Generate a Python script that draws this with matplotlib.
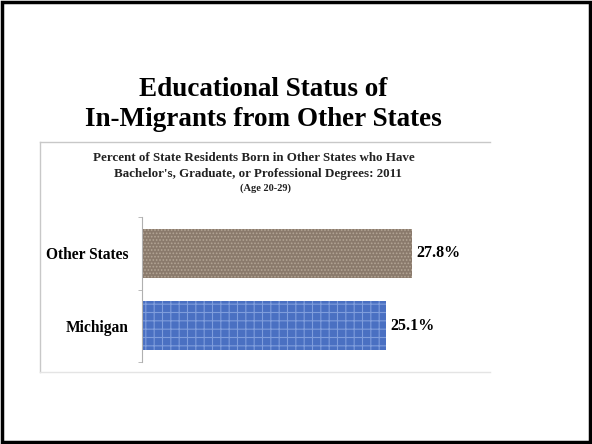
import matplotlib.pyplot as plt
from matplotlib.lines import Line2D
from matplotlib.patches import Rectangle

plt.rcParams['font.family'] = ['Liberation Serif', 'DejaVu Serif']
plt.rcParams['hatch.linewidth'] = 0.8

categories = ["Michigan", "Other States"]
values = [25.1, 27.8]
value_labels = ["25.1%", "27.8%"]
bar_colors = ["#4a70c2", "#8a7a6c"]
hatch_colors = ["#7f9ddc", "#b3a595"]
hatches = ["++", "....."]

W, H = 592, 444
fig = plt.figure(figsize=(W / 100, H / 100), dpi=100)


def fx(px):
    return px / W


def fy(py):
    return 1 - py / H


# slide frame
fig.patches.append(Rectangle((0.004, 0.005), 0.992, 0.99, transform=fig.transFigure,
                             fill=False, edgecolor="black", linewidth=2.5))

# chart box lines
box = "#c8c8c8"
fig.lines.append(Line2D([fx(40), fx(40)], [fy(142), fy(372)], color=box, lw=1, transform=fig.transFigure))
fig.lines.append(Line2D([fx(40), fx(490)], [fy(142), fy(142)], color=box, lw=1, transform=fig.transFigure))
fig.lines.append(Line2D([fx(40), fx(490)], [fy(372), fy(372)], color="#e4e4e4", lw=1, transform=fig.transFigure))

# titles
fig.text(fx(263), fy(89), "Educational Status of", ha="center", va="center",
         fontsize=19.5, fontweight="bold")
fig.text(fx(263), fy(119), "In-Migrants from Other States", ha="center", va="center",
         fontsize=19.5, fontweight="bold")
fig.text(fx(254), fy(158), "Percent of State Residents Born in Other States who Have",
         ha="center", va="center", fontsize=9.4, fontweight="bold", color="#222222")
fig.text(fx(258), fy(174), "Bachelor's, Graduate, or Professional Degrees: 2011",
         ha="center", va="center", fontsize=9.4, fontweight="bold", color="#222222")
fig.text(fx(266), fy(188), "(Age 20-29)", ha="center", va="center",
         fontsize=7.5, fontweight="bold", color="#222222")

# bar chart
ax = fig.add_axes([fx(142), fy(362), fx(350), (362 - 217) / H])
ypos = range(len(categories))
for i, (v, c, hc, h) in enumerate(zip(values, bar_colors, hatch_colors, hatches)):
    ax.barh(i, v, height=0.67, color=c, edgecolor=hc, hatch=h, linewidth=0)
    ax.text(v + 0.4, i, value_labels[i], va="center", ha="left",
            fontsize=11.5, fontweight="bold")

ax.set_xlim(0, 36)
ax.set_ylim(-0.5, 1.5)
ax.set_yticks(list(ypos))
ax.set_yticklabels(categories, fontsize=11.2, fontweight="bold")
ax.tick_params(axis="y", length=0, pad=10)
ax.set_yticks([-0.5, 0.5, 1.5], minor=True)
ax.tick_params(axis="y", which="minor", length=3, color="#b0b0b0")
ax.set_xticks([])
for s in ["top", "right", "bottom"]:
    ax.spines[s].set_visible(False)
ax.spines["left"].set_color("#b0b0b0")
ax.patch.set_alpha(0)

fig.savefig("out.png", dpi=100)
